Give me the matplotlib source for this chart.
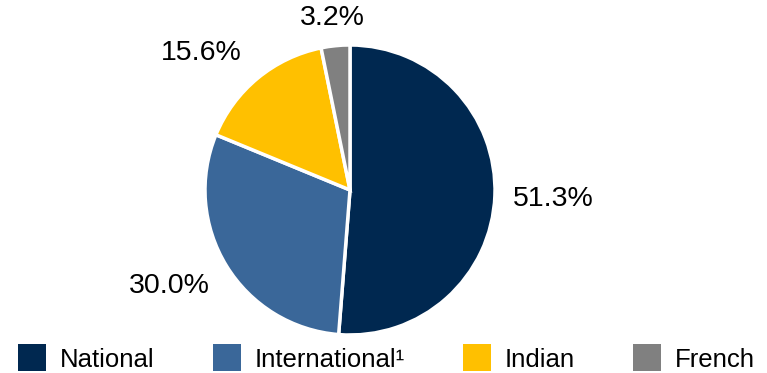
import numpy as np
import matplotlib.pyplot as plt
from matplotlib.patches import Patch

plt.rcParams['font.family'] = ['Liberation Sans', 'DejaVu Sans']

segments = ["National", "International\u00b9", "Indian", "French"]
shares = [51.3, 30.0, 15.6, 3.2]
colours = ["#002850", "#3A6799", "#FFC000", "#808080"]
# label placement: distance from centre and angle nudge (deg)
label_dist = [1.40, 1.41, 1.39, 1.19]
label_shift = [-0.2, -3.6, 7.8, 0.0]

fig = plt.figure(figsize=(7.67, 3.73), dpi=100)
# pie centred at (350, 190) px with a 145 px radius
ax = fig.add_axes([205 / 767, 38 / 373, 290 / 767, 290 / 373])

wedges, _ = ax.pie(shares, colors=colours, startangle=90, counterclock=False,
                   radius=1.0, wedgeprops=dict(edgecolor="white", linewidth=2.5))
ax.set_xlim(-1, 1)
ax.set_ylim(-1, 1)
ax.set_aspect("equal")

for w, val, d, s in zip(wedges, shares, label_dist, label_shift):
    ang = np.deg2rad((w.theta1 + w.theta2) / 2 + s)
    ax.text(d * np.cos(ang), d * np.sin(ang), f"{val:.1f}%",
            ha="center", va="center", fontsize=20.5, clip_on=False)

handles = [Patch(facecolor=c, edgecolor="none", label=s) for c, s in zip(colours, segments)]
fig.legend(handles=handles, ncol=4, loc="center left",
           bbox_to_anchor=(18 / 767, 15 / 373), frameon=False,
           fontsize=18.5, handlelength=1.09, handleheight=1.23,
           handletextpad=0.55, columnspacing=2.25, borderpad=0, borderaxespad=0)

fig.savefig("out.png", dpi=100)
